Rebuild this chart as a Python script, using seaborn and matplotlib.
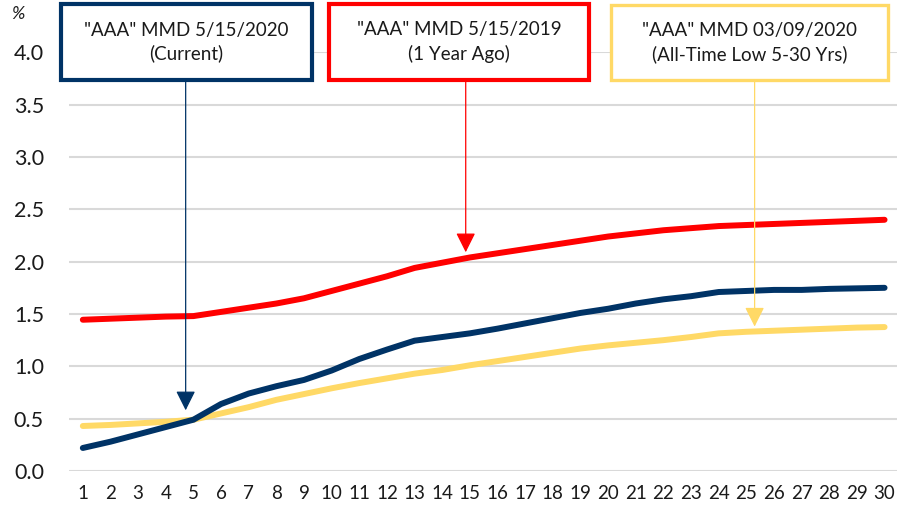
import pandas as pd
import matplotlib.pyplot as plt
import seaborn as sns
from matplotlib.patches import Rectangle

# Maturity in years
years = list(range(1, 31))

# "AAA" MMD yields (%)
current = [0.22, 0.28, 0.35, 0.42, 0.49, 0.64, 0.74, 0.81, 0.87, 0.96,
           1.07, 1.16, 1.245, 1.28, 1.315, 1.36, 1.41, 1.46, 1.51, 1.55,
           1.60, 1.64, 1.67, 1.71, 1.72, 1.73, 1.73, 1.74, 1.745, 1.75]
year_ago = [1.445, 1.455, 1.465, 1.475, 1.48, 1.52, 1.56, 1.60, 1.65, 1.72,
            1.79, 1.86, 1.94, 1.99, 2.04, 2.08, 2.12, 2.16, 2.20, 2.24,
            2.27, 2.30, 2.32, 2.34, 2.35, 2.36, 2.37, 2.38, 2.39, 2.40]
all_time_low = [0.43, 0.44, 0.455, 0.47, 0.49, 0.55, 0.61, 0.68, 0.735, 0.79,
                0.84, 0.885, 0.93, 0.965, 1.01, 1.05, 1.09, 1.13, 1.17, 1.20,
                1.225, 1.25, 1.28, 1.315, 1.33, 1.34, 1.35, 1.36, 1.37, 1.375]

labels = ['"AAA" MMD 5/15/2020\n(Current)',
          '"AAA" MMD 5/15/2019\n(1 Year Ago)',
          '"AAA" MMD 03/09/2020\n(All-Time Low 5-30 Yrs)']
colors = ['#003366', '#FF0000', '#FFD966']

df = pd.concat([
    pd.DataFrame({'year': years, 'yield': current, 'series': 'current'}),
    pd.DataFrame({'year': years, 'yield': year_ago, 'series': 'year_ago'}),
    pd.DataFrame({'year': years, 'yield': all_time_low, 'series': 'low'}),
])

sns.set_style('white')
plt.rcParams['font.family'] = ['Lato', 'DejaVu Sans']
plt.rcParams['text.color'] = '#1a1a1a'

W, H = 898, 514
fig = plt.figure(figsize=(W / 100, H / 100), dpi=100)
ax = fig.add_axes([69 / W, 1 - 471 / H, (897 - 69) / W, (471 - 52.3) / H])

sns.lineplot(data=df, x='year', y='yield', hue='series',
             palette={'current': colors[0], 'year_ago': colors[1], 'low': colors[2]},
             hue_order=['low', 'current', 'year_ago'],
             linewidth=4.3, legend=False, ax=ax, solid_capstyle='round', zorder=3)

ax.set_xlim(0.5, 30.45)
ax.set_ylim(0, 4.0)
ax.set_xticks(years)
ax.set_xticklabels([str(y) for y in years], fontsize=13.5, color='#1a1a1a')
ax.set_yticks([0, 0.5, 1.0, 1.5, 2.0, 2.5, 3.0, 3.5, 4.0])
ax.set_yticklabels(['0.0', '0.5', '1.0', '1.5', '2.0', '2.5', '3.0', '3.5', '4.0'],
                   fontsize=15.5, color='#1a1a1a')
ax.tick_params(axis='x', pad=10, length=0)
ax.tick_params(axis='y', pad=18, length=0)
ax.set_xlabel('')
ax.set_ylabel('')
ax.grid(axis='y', color='#d9d9d9', linewidth=1.5, zorder=0)
ax.set_axisbelow(True)
for s in ax.spines.values():
    s.set_visible(False)

fig.text(11 / W, 1 - 14 / H, '%', fontsize=13, fontstyle='italic', va='center', ha='left')

# annotation boxes (pixel extents) and arrows
boxes = [(61, 4, 312, 80), (329, 4, 589, 80), (611, 5, 888, 80)]
box_lw = [3.0, 3.0, 2.4]
for (x0, y0, x1, y1), lab, c, lw in zip(boxes, labels, colors, box_lw):
    fig.patches.append(Rectangle((x0 / W, 1 - y1 / H), (x1 - x0) / W, (y1 - y0) / H,
                                 transform=fig.transFigure, facecolor='white',
                                 edgecolor=c, linewidth=lw, zorder=5))
    fig.text((x0 + x1) / 2 / W, 1 - (y0 + y1) / 2 / H, lab, ha='center', va='center',
             fontsize=13.5, linespacing=1.4, zorder=6)

arrow_x = [4.72, 14.85, 25.3]
arrow_tip = [0.58, 2.09, 1.38]
box_bottom = (471 - 80) / 104.7
for x, tip, c in zip(arrow_x, arrow_tip, colors):
    ax.annotate('', xy=(x, tip), xytext=(x, box_bottom), annotation_clip=False,
                arrowprops=dict(arrowstyle='-|>,head_length=0.8,head_width=0.4',
                                mutation_scale=15, color=c, lw=0.9,
                                shrinkA=0, shrinkB=0), zorder=4)

plt.savefig('out.png', dpi=100)
